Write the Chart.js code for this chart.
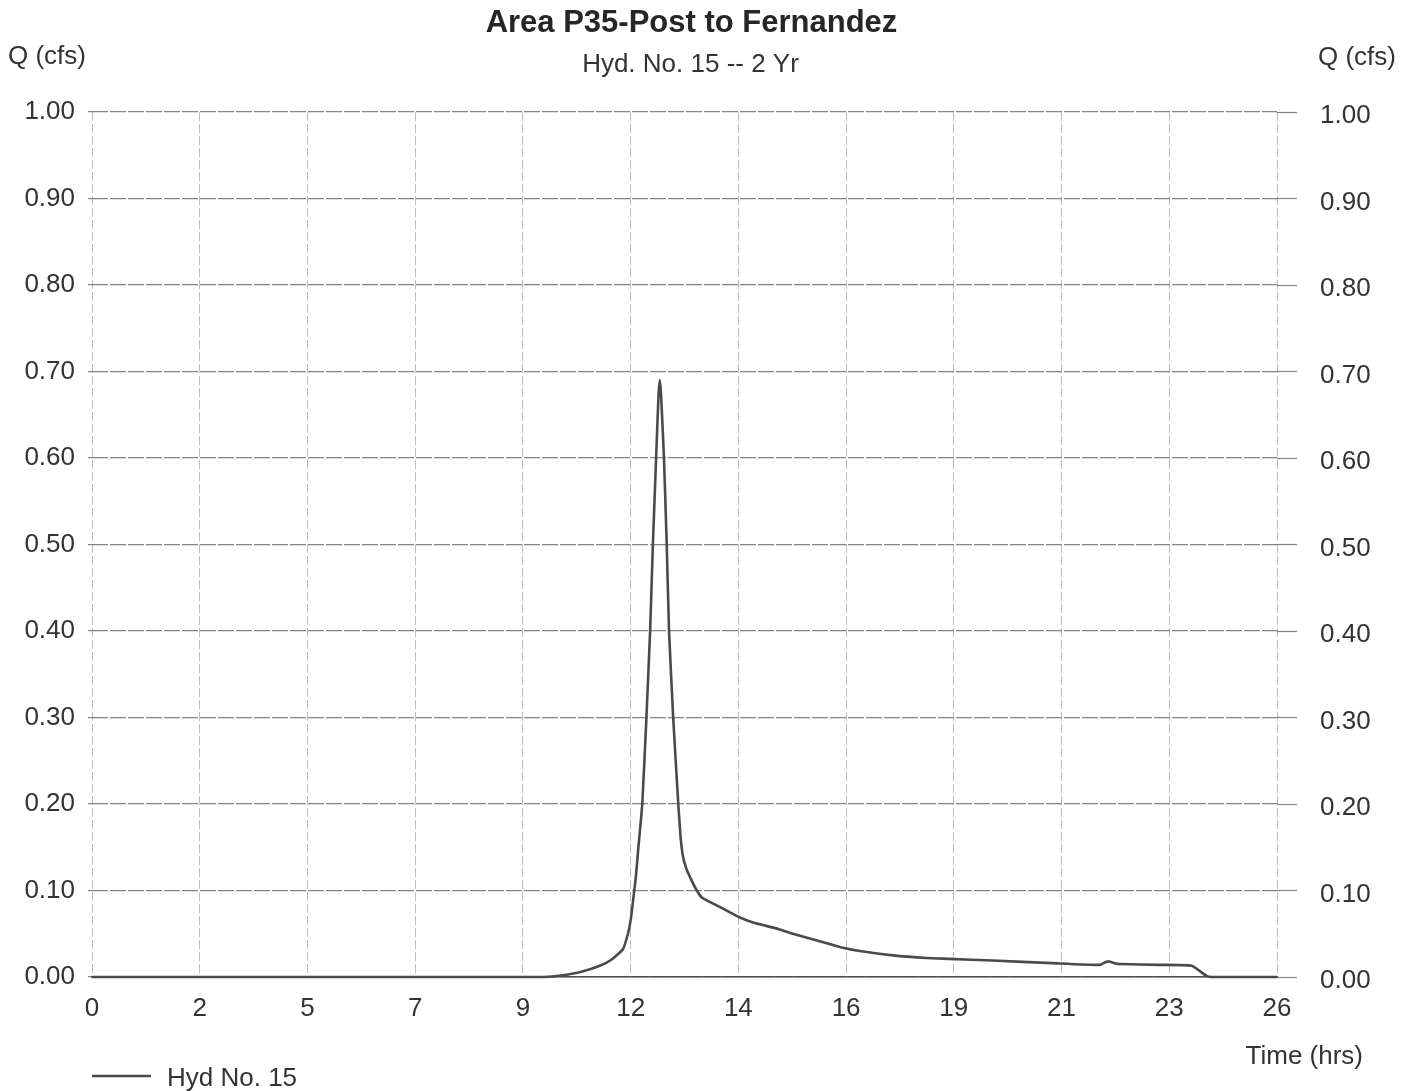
<!DOCTYPE html>
<html>
<head>
<meta charset="utf-8">
<title>Area P35-Post to Fernandez</title>
<script src="https://cdn.jsdelivr.net/npm/chart.js@4.4.1/dist/chart.umd.min.js"></script>
<style>
  html, body { margin: 0; padding: 0; background: #ffffff; }
  #wrap { width: 1415px; height: 1091px; }
</style>
</head>
<body>
<div id="wrap"><canvas id="hydro" width="1415" height="1091"></canvas></div>
<script>
// ---- chart text ----
const chartTitle = 'Area P35-Post to Fernandez';
const chartSubtitle = 'Hyd. No. 15 -- 2 Yr';
const flowAxisTitle = 'Q (cfs)';
const timeAxisTitle = 'Time (hrs)';
const seriesName = 'Hyd No. 15';

// ---- axes ----
const timeTickLabels = ['0', '2', '5', '7', '9', '12', '14', '16', '19', '21', '23', '26'];
const timeAxisEnd = 25.67;   // hours
const flowAxisMax = 1.0;     // cfs
const flowAxisStep = 0.1;

// ---- hydrograph (time in hrs, discharge in cfs) ----
const timeHrs = [
  0.00, 9.80, 10.20, 10.60, 11.00, 11.25, 11.50, 11.61, 11.67, 11.72,
  11.78, 11.83, 11.92, 12.01, 12.09, 12.15, 12.22, 12.27, 12.30, 12.33,
  12.39, 12.45, 12.50, 12.59, 12.70, 12.75, 12.80, 12.87, 12.95, 13.08,
  13.21, 13.60, 13.99, 14.32, 14.90, 15.18, 15.92, 16.24, 16.63, 17.35,
  18.08, 18.58, 19.51, 20.81, 21.83, 21.95, 22.03, 22.15, 22.27, 23.13,
  23.82, 24.15, 24.25, 25.67
];
const flowCfs = [
  0.000, 0.000, 0.002, 0.006, 0.013, 0.020, 0.032, 0.050, 0.066, 0.088,
  0.115, 0.146, 0.200, 0.300, 0.400, 0.500, 0.600, 0.670, 0.690, 0.670,
  0.600, 0.500, 0.400, 0.300, 0.200, 0.162, 0.140, 0.126, 0.116, 0.102,
  0.092, 0.081, 0.070, 0.063, 0.055, 0.050, 0.039, 0.034, 0.030, 0.025,
  0.022, 0.021, 0.019, 0.016, 0.014, 0.017, 0.018, 0.016, 0.015, 0.014,
  0.013, 0.001, 0.000, 0.000
];

const FONT = '"Liberation Sans", Arial, Helvetica, sans-serif';
const TEXT = '#333333';
const HGRID = 'rgba(110,110,110,0.85)';
const VGRID = '#bdbdbd';
const LINE = '#4a4a4a';

// Titles, side labels and the legend key
const surroundText = {
  id: 'surroundText',
  afterDraw(chart) {
    const ctx = chart.ctx;
    const area = chart.chartArea;
    const mid = (area.left + area.right) / 2;
    ctx.save();
    ctx.textBaseline = 'alphabetic';

    ctx.textAlign = 'center';
    ctx.font = 'bold 31px ' + FONT;
    ctx.fillStyle = '#262626';
    ctx.fillText(chartTitle, mid + 7, 32);
    ctx.fillStyle = TEXT;
    ctx.font = '26px ' + FONT;
    ctx.fillText(chartSubtitle, mid + 6, 72);

    ctx.textAlign = 'left';
    ctx.fillText(flowAxisTitle, 8, 64);
    ctx.fillText(flowAxisTitle, 1318, 65);

    ctx.textAlign = 'right';
    ctx.fillText(timeAxisTitle, 1363, 1064);

    // legend key
    ctx.textAlign = 'left';
    ctx.fillText(seriesName, 167, 1086);
    ctx.strokeStyle = LINE;
    ctx.lineWidth = 2.5;
    ctx.beginPath();
    ctx.moveTo(92, 1076);
    ctx.lineTo(151, 1076);
    ctx.stroke();
    ctx.restore();
  }
};

const points = timeHrs.map((t, i) => ({ x: t, y: flowCfs[i] }));

new Chart(document.getElementById('hydro'), {
  type: 'line',
  data: {
    datasets: [{
      label: seriesName,
      data: points,
      borderColor: LINE,
      borderWidth: 2.6,
      pointRadius: 0,
      tension: 0.15,
      fill: false,
      clip: false
    }]
  },
  options: {
    responsive: false,
    animation: false,
    devicePixelRatio: 1,
    layout: { padding: { top: 112, left: 0, right: 0, bottom: 0 } },
    plugins: {
      legend: { display: false },
      title: { display: false },
      tooltip: { enabled: false }
    },
    scales: {
      x: {
        type: 'linear',
        min: 0,
        max: timeAxisEnd,
        afterBuildTicks(scale) {
          scale.ticks = timeTickLabels.map((_, i) => ({ value: i * timeAxisEnd / (timeTickLabels.length - 1) }));
        },
        afterFit(scale) { scale.height = 114; },
        grid: {
          color: VGRID,
          lineWidth: 1,
          drawTicks: false
        },
        border: { display: true, color: '#4d4d4d', width: 1.6, dash: [9, 3] },
        ticks: {
          color: TEXT,
          font: { family: FONT, size: 26 },
          padding: 16,
          maxRotation: 0,
          autoSkip: false,
          callback: (v, i) => timeTickLabels[i]
        }
      },
      y: {
        position: 'left',
        min: 0,
        max: flowAxisMax,
        afterFit(scale) { scale.width = 92; },
        grid: {
          color: HGRID,
          lineWidth: 1.2,
          drawTicks: true,
          tickLength: 4,
          tickColor: HGRID
        },
        border: { display: false, dash: [16, 2] },
        ticks: {
          stepSize: flowAxisStep,
          color: TEXT,
          font: { family: FONT, size: 26 },
          padding: 13,
          callback: v => v.toFixed(2)
        }
      },
      yRight: {
        position: 'right',
        min: 0,
        max: flowAxisMax,
        afterFit(scale) { scale.width = 138; },
        grid: {
          drawOnChartArea: false,
          drawTicks: true,
          tickLength: 20,
          tickColor: HGRID,
          tickWidth: 1.2
        },
        border: { display: false },
        ticks: {
          stepSize: flowAxisStep,
          color: TEXT,
          font: { family: FONT, size: 26 },
          padding: 23,
          labelOffset: 4,
          callback: v => v.toFixed(2)
        }
      }
    }
  },
  plugins: [surroundText]
});
</script>
</body>
</html>
